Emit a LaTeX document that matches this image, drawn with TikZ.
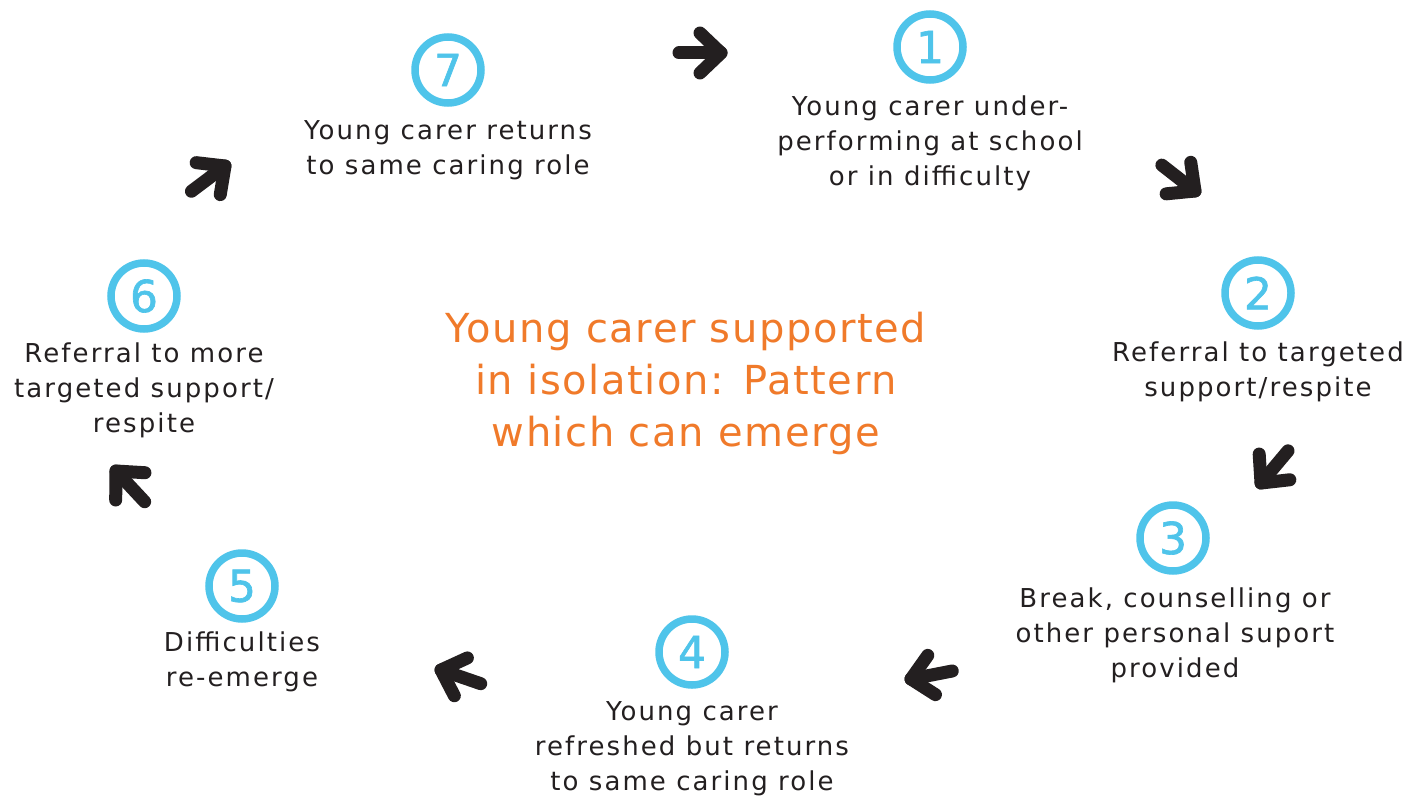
\documentclass[tikz,border=0pt]{standalone}
\usepackage{fontspec}
\setmainfont{DejaVu Sans}[LetterSpace=8]
\newfontfamily\titlefont{DejaVu Sans}[LetterSpace=4]
\newfontfamily\numfont{DejaVu Sans}[FakeBold=1.5]
\definecolor{ringc}{RGB}{79,196,234}
\definecolor{orangec}{RGB}{240,122,42}
\definecolor{inkc}{RGB}{35,31,32}
\tikzset{
  ring/.style={circle, draw=ringc, line width=7.5pt, inner sep=0pt, minimum size=66pt,
    text=ringc, font=\numfont\fontsize{44}{44}\selectfont},
  label/.style={align=center, text=inkc, font=\fontsize{26}{35}\selectfont},
  title/.style={align=center, text=orangec, font=\titlefont\fontsize{40}{52}\selectfont},
  arrowline/.style={draw=inkc, line width=13pt, line cap=round, line join=round},
  bigarrow/.pic={
    \draw[arrowline] (-42,0) -- (0,0);
    \draw[arrowline] (-21,20) -- (0,0) -- (-21,-20);
  }
}
\begin{document}
\begin{tikzpicture}[x=1pt,y=-1pt]
\useasboundingbox (0,0) rectangle (1421,800);
% numbered circles
\node[ring] (c1) at (930,47) {1};
\node[ring] (c2) at (1258,293) {2};
\node[ring] (c3) at (1173,538) {3};
\node[ring] (c4) at (692,652) {4};
\node[ring] (c5) at (242,586) {5};
\node[ring] (c6) at (144,296) {6};
\node[ring] (c7) at (448,70) {7};
% labels
\node[label] (t1) at (930,143) {Young carer under-\\performing at school\\or in difficulty};
\node[label] (t2) at (1258,372) {Referral to targeted\\support/respite};
\node[label] (t3) at (1175,635) {Break, counselling or\\other personal suport\\provided};
\node[label] (t4) at (692,749) {Young carer\\refreshed but returns\\to same caring role};
\node[label] (t5) at (242,662) {Difficulties\\re-emerge};
\node[label] (t6) at (144,390) {Referral to more\\targeted support/\\respite};
\node[label] (t7) at (448,150) {Young carer returns\\to same caring role};
\node[title] (mid) at (686,383) {Young carer supported\\in isolation: Pattern\\which can emerge};
% arrows
\pic[rotate=0] at (721,53) {bigarrow};
\pic[rotate=-38] at (1195,191) {bigarrow};
\pic[rotate=230] at (1261,483) {bigarrow};
\pic[rotate=191] at (911,679) {bigarrow};
\pic[rotate=161] at (441,670) {bigarrow};
\pic[rotate=133] at (116,471) {bigarrow};
\pic[rotate=37] at (225,166) {bigarrow};
\end{tikzpicture}
\end{document}
